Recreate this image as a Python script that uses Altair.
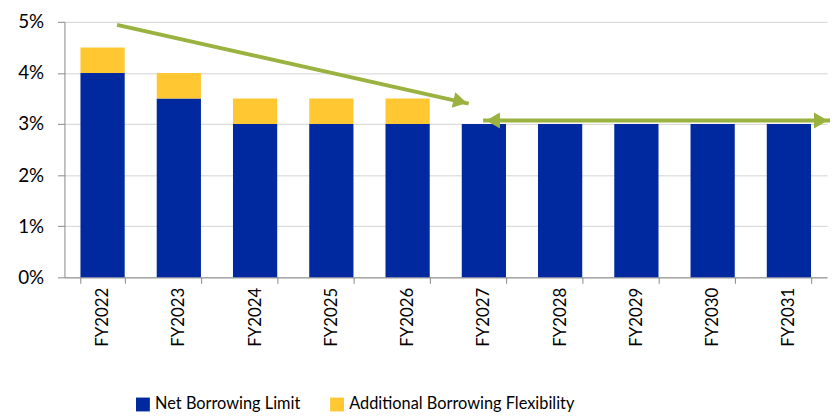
import altair as alt
import pandas as pd

years = ["FY2022", "FY2023", "FY2024", "FY2025", "FY2026",
         "FY2027", "FY2028", "FY2029", "FY2030", "FY2031"]
net_limit = [4.0, 3.5, 3.0, 3.0, 3.0, 3.0, 3.0, 3.0, 3.0, 3.0]
additional = [0.5, 0.5, 0.5, 0.5, 0.5, 0.0, 0.0, 0.0, 0.0, 0.0]
series = ["Net Borrowing Limit", "Additional Borrowing Flexibility"]

# annotation arrows (x in category units 0..10, y in %)
diag_x = [0.69, 5.30]
diag_y = [4.94, 3.40]
horiz_x = [5.49, 10.04]
horiz_y = [3.07, 3.07]
head_x = [5.19, 5.62, 9.92]
head_y = [3.44, 3.07, 3.07]
head_shape = ["triangle-right", "triangle-left", "triangle-right"]
head_angle = [13, 0, 0]

BLUE = "#0029A0"
YELLOW = "#FFC832"
GREEN = "#9AB23F"
FONT = "Lato"

rows = []
for y, n, a in zip(years, net_limit, additional):
    rows.append({"year": y, "series": series[0], "value": n, "ord": 0})
    rows.append({"year": y, "series": series[1], "value": a, "ord": 1})
bars_df = pd.DataFrame(rows)

diag_df = pd.DataFrame({"x": diag_x, "value": diag_y})
horiz_df = pd.DataFrame({"x": horiz_x, "value": horiz_y})
head_df = pd.DataFrame({"x": head_x, "value": head_y, "shape": head_shape, "ang": head_angle})

yscale = alt.Scale(domain=[0, 5], nice=False)
yaxis = alt.Axis(values=[0, 1, 2, 3, 4, 5], labelExpr="datum.value + '%'",
                 labelFontSize=19, labelPadding=14, tickSize=7,
                 tickColor="#888888", domainColor="#888888", grid=True,
                 gridColor="#D3D3D3", labelColor="#000000", labelFont=FONT)

bars = alt.Chart(bars_df).mark_bar().encode(
    x=alt.X("year:N", sort=years, title=None,
            scale=alt.Scale(paddingInner=0.42, paddingOuter=0.21),
            axis=alt.Axis(labelAngle=-90, labelAlign="right", labelBaseline="middle",
                          labelFontSize=17, labelPadding=4, tickBand="extent",
                          tickSize=6, tickColor="#888888", domainColor="#888888",
                          labelColor="#000000", labelFont=FONT, grid=False)),
    y=alt.Y("value:Q", stack="zero", scale=yscale, title=None, axis=yaxis),
    color=alt.Color("series:N", scale=alt.Scale(domain=series, range=[BLUE, YELLOW]),
                    legend=alt.Legend(orient="none", legendX=71, legendY=378,
                                      direction="horizontal", title=None,
                                      symbolType="square", symbolSize=196,
                                      labelFontSize=16.5, labelFont=FONT, labelLimit=400,
                                      labelColor="#000000", columnPadding=28,
                                      symbolStrokeWidth=0)),
    order=alt.Order("ord:Q", sort="ascending"),
)

xq = alt.X("x:Q", scale=alt.Scale(domain=[0, 10], nice=False, zero=False), axis=None)
yq = alt.Y("value:Q", scale=yscale, title=None, axis=yaxis)

diag = alt.Chart(diag_df).mark_line(color=GREEN, strokeWidth=4, clip=False).encode(x=xq, y=yq)
horiz = alt.Chart(horiz_df).mark_line(color=GREEN, strokeWidth=4, clip=False).encode(x=xq, y=yq)
heads = alt.Chart(head_df).mark_point(filled=True, color=GREEN, opacity=1, size=260,
                                      clip=False).encode(
    x=xq, y=yq,
    shape=alt.Shape("shape:N", scale=None),
    angle=alt.Angle("ang:Q", scale=None),
)

chart = alt.layer(bars, diag, horiz, heads).resolve_scale(x="independent").properties(
    width=770, height=258,
    autosize=alt.AutoSizeParams(type="none"),
    padding={"left": 57, "top": 12, "right": 3, "bottom": 136},
).configure_view(stroke=None).configure_axis(labelFont=FONT)

chart.save("out.html", embed_options={"renderer": "svg", "actions": False})
